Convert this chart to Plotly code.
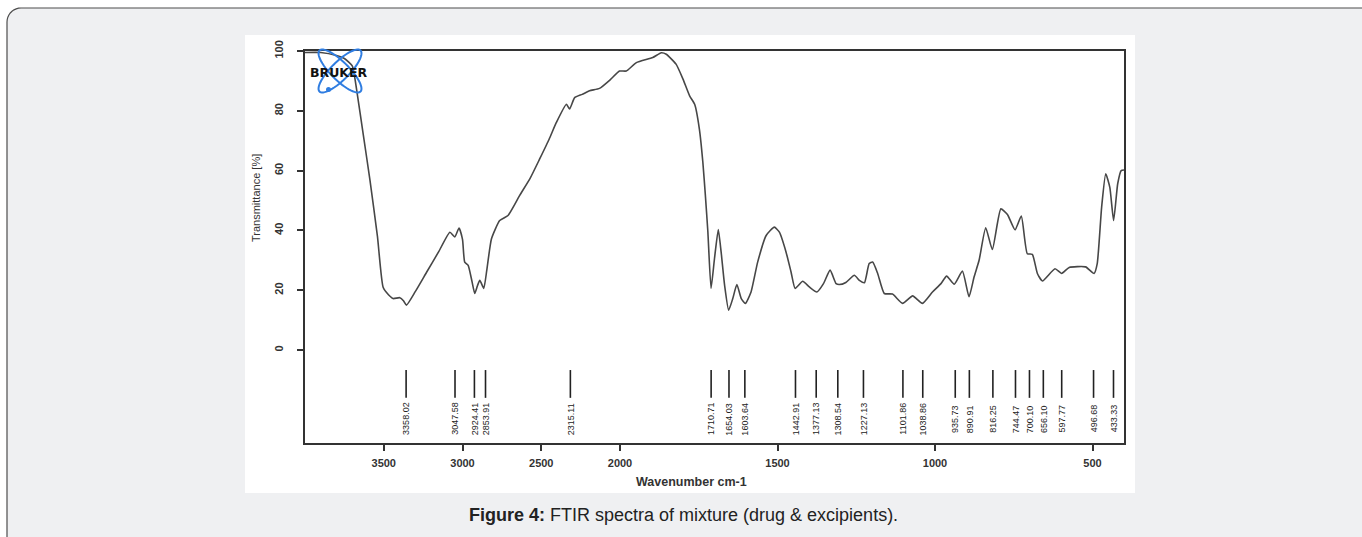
import numpy as np
import plotly.graph_objects as go

# ---------------- data ----------------
wavenumber = [4000, 3900, 3800, 3750, 3700, 3672, 3630, 3588, 3540, 3504, 3470, 3440,
              3398, 3375, 3356, 3300, 3228, 3150, 3080, 3049, 3022, 3000, 2986, 2964,
              2940, 2922, 2905, 2890, 2865, 2845, 2816, 2764, 2711, 2637, 2570, 2510,
              2450, 2404, 2340, 2320, 2288, 2240, 2193, 2130, 2060, 2003, 1980, 1948,
              1896, 1869, 1853, 1822, 1800, 1779, 1763, 1748, 1737, 1729, 1721, 1711,
              1700, 1688, 1679, 1668, 1655, 1642, 1629, 1615, 1602, 1584, 1563, 1536,
              1510, 1494, 1473, 1457, 1444, 1420, 1399, 1375, 1354, 1333, 1314, 1304,
              1283, 1256, 1240, 1224, 1209, 1198, 1182, 1161, 1135, 1103, 1071, 1040,
              1008, 981, 963, 939, 913, 892, 876, 860, 839, 818, 791, 770, 746, 726,
              707, 691, 675, 659, 619, 598, 574, 522, 495, 485, 471, 458, 445, 433,
              420, 409, 400]
transmittance = [99.5, 99.5, 98.5, 97.5, 95, 87, 72, 57, 38, 21, 18.5, 17.2,
                 17.5, 16.5, 15, 19.5, 26, 33, 39.4, 37.8, 40.8, 37, 29.4, 28.3,
                 23, 18.9, 21.5, 23.3, 20.6, 27, 37.2, 43.3, 45, 51.7, 57.5, 63.9,
                 70.5, 76.1, 82.2, 80.6, 84.4, 85.5, 86.7, 87.5, 90.5, 93.3, 93.3, 96.1,
                 97.8, 99.4, 98.9, 95.6, 90.6, 85, 82.2, 73.9, 62.8, 51.7, 39.4, 20.6,
                 30.6, 40.3, 32.8, 21.7, 13.3, 17.2, 21.9, 17.2, 15.6, 19.4, 29.4, 38.3,
                 41.1, 39.4, 32.8, 26.1, 20.6, 23, 21.1, 19.4, 22.2, 26.7, 22.2, 21.9,
                 22.6, 25, 23.3, 22.5, 28.9, 29.4, 25.6, 18.9, 18.7, 15.6, 18.1, 15.6,
                 19.4, 22.2, 24.7, 22, 26.4, 17.8, 24.4, 30, 40.9, 33.6, 47.2, 45.3, 40.2, 44.8,
                 32.2, 32, 25.6, 23.1, 27.2, 25.6, 27.6, 27.8, 25.6, 28.9, 47.8, 58.9, 54.4, 43.3,
                 55.6, 60, 60.2]

peak_positions = [3358.02, 3047.58, 2924.41, 2853.91, 2315.11, 1710.71, 1654.03, 1603.64,
                  1442.91, 1377.13, 1308.54, 1227.13, 1101.86, 1038.86, 935.73, 890.91,
                  816.25, 744.47, 700.10, 656.10, 597.77, 496.68, 433.33]
peak_labels = ["3358.02", "3047.58", "2924.41", "2853.91", "2315.11", "1710.71", "1654.03",
               "1603.64", "1442.91", "1377.13", "1308.54", "1227.13", "1101.86", "1038.86",
               "935.73", "890.91", "816.25", "744.47", "700.10", "656.10", "597.77",
               "496.68", "433.33"]

x_tick_values = [3500, 3000, 2500, 2000, 1500, 1000, 500]
x_tick_labels = ["3500", "3000", "2500", "2000", "1500", "1000", "500"]
y_tick_values = [0, 20, 40, 60, 80, 100]
y_tick_labels = ["0", "20", "40", "60", "80", "100"]

x_limits = [4000, 400]
y_limits = [-31.1, 100]
peak_mark_top, peak_mark_bottom, peak_label_y = -6.7, -16.0, -23.0


# OPUS-style axis: the region above 2000 cm-1 is compressed by a factor of two
def axis_pos(w):
    w = np.asarray(w, dtype=float)
    return np.where(w > 2000, 2000 + (w - 2000) / 2.0, w)


# ---------------- layout geometry (pixels) ----------------
W, H = 1362, 537
L, R, T, B = 305, 1124, 51, 443


def px(x, y):
    return (x - L) / (R - L), (B - y) / (B - T)


def path_from_px(points, close=True):
    s = ""
    for i, (x, y) in enumerate(points):
        u, v = px(x, y)
        s += ("M" if i == 0 else "L") + f"{u:.5f},{v:.5f} "
    return s + ("Z" if close else "")


def rounded_rect(x0, y0, x1, y1, r):
    pts = []
    for cx, cy, a0 in [(x1 - r, y0 + r, -90), (x1 - r, y1 - r, 0),
                       (x0 + r, y1 - r, 90), (x0 + r, y0 + r, 180)]:
        for a in np.linspace(a0, a0 + 90, 10):
            t = np.radians(a)
            pts.append((cx + r * np.cos(t), cy + r * np.sin(t)))
    return path_from_px(pts)


def ellipse(cx, cy, a, b, ang):
    t = np.linspace(0, 2 * np.pi, 60)
    c, s = np.cos(np.radians(ang)), np.sin(np.radians(ang))
    xs = cx + a * np.cos(t) * c - b * np.sin(t) * s
    ys = cy + a * np.cos(t) * s + b * np.sin(t) * c
    return path_from_px(list(zip(xs, ys)))


fig = go.Figure()

fig.add_trace(go.Scatter(
    x=axis_pos(wavenumber), y=transmittance, mode="lines",
    line=dict(color="#474747", width=1.6, shape="spline", smoothing=0.5),
    hoverinfo="skip", showlegend=False))

px_x, px_y = [], []
for p in axis_pos(peak_positions):
    px_x += [p, p, None]
    px_y += [peak_mark_top, peak_mark_bottom, None]
fig.add_trace(go.Scatter(x=px_x, y=px_y, mode="lines",
                         line=dict(color="#222222", width=1.6),
                         hoverinfo="skip", showlegend=False))

blue = "#2f7de1"
shapes = [
    dict(type="path", xref="paper", yref="paper", layer="below",
         path=rounded_rect(7, 8, 1390, 570, 14),
         fillcolor="#eff0f2", line=dict(color="#4d4d4d", width=1.2)),
    dict(type="rect", xref="paper", yref="paper", layer="below",
         x0=px(245, 0)[0], x1=px(1135, 0)[0], y0=px(0, 493)[1], y1=px(0, 35)[1],
         fillcolor="white", line=dict(width=0)),
    dict(type="path", xref="paper", yref="paper", layer="above",
         path=ellipse(340, 71, 29, 9, 45), line=dict(color=blue, width=2)),
    dict(type="path", xref="paper", yref="paper", layer="above",
         path=ellipse(340, 71, 29, 9, -45), line=dict(color=blue, width=2)),
    dict(type="circle", xref="paper", yref="paper", layer="above",
         x0=px(326, 0)[0], x1=px(331, 0)[0], y0=px(0, 92)[1], y1=px(0, 87)[1],
         fillcolor=blue, line=dict(width=0)),
]

annotations = []
for p, lab in zip(axis_pos(peak_positions), peak_labels):
    annotations.append(dict(x=p, y=peak_label_y, xref="x", yref="y", text=lab,
                            textangle=-90, showarrow=False, xanchor="center",
                            yanchor="middle",
                            font=dict(family="Liberation Sans", size=9, color="#222")))


def paper_text(x, y, text, font, angle=0):
    u, v = px(x, y)
    annotations.append(dict(x=u, y=v, xref="paper", yref="paper", text=text,
                            textangle=angle, showarrow=False,
                            xanchor="center", yanchor="middle", font=font))


paper_text(256, 198, "Transmittance [%]",
           dict(family="Liberation Sans", size=11, color="#333"), angle=-90)
paper_text(691, 482, "<b>Wavenumber cm-1</b>",
           dict(family="Liberation Sans", size=12.5, color="#333"))
paper_text(339, 72, "<b>BRUKER</b>",
           dict(family="DejaVu Sans", size=12.5, color="#111"))
paper_text(683, 515, "<b>Figure 4:</b> FTIR spectra of mixture (drug & excipients).",
           dict(family="Liberation Sans", size=18, color="#222"))

tickfont = dict(family="Liberation Sans", size=11, color="#333", weight="bold")
fig.update_layout(
    width=W, height=H, autosize=False,
    margin=dict(l=L, r=W - R, t=T, b=H - B, pad=0),
    paper_bgcolor="white", plot_bgcolor="white",
    showlegend=False,
    shapes=shapes, annotations=annotations,
    xaxis=dict(range=list(axis_pos(x_limits)), tickmode="array",
               tickvals=list(axis_pos(x_tick_values)), ticktext=x_tick_labels,
               ticks="outside", ticklen=6, tickwidth=1.5, tickcolor="#333",
               showline=True, mirror=True, linecolor="#333", linewidth=1.6,
               showgrid=False, zeroline=False, tickfont=tickfont,
               ticklabelstandoff=3),
    yaxis=dict(range=y_limits, tickmode="array", tickvals=y_tick_values,
               ticktext=y_tick_labels, tickangle=-90,
               ticks="outside", ticklen=6, tickwidth=1.5, tickcolor="#333",
               showline=True, mirror=True, linecolor="#333", linewidth=1.6,
               showgrid=False, zeroline=False, tickfont=tickfont,
               ticklabelstandoff=10),
)

fig.write_html("out.html")
